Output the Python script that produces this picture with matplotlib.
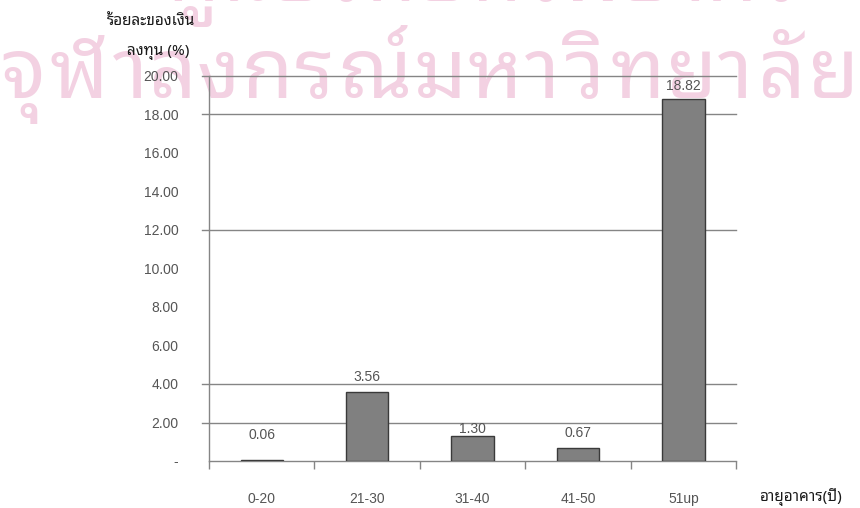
import matplotlib
matplotlib.use("Agg")
import matplotlib.pyplot as plt
import numpy as np
from matplotlib.textpath import TextPath
from matplotlib.font_manager import FontProperties

# building age groups and share of investment (%)
age_groups = ["0-20", "21-30", "31-40", "41-50", "51up"]
invest_pct = [0.06, 3.56, 1.30, 0.67, 18.82]
ytick_vals = [0, 2, 4, 6, 8, 10, 12, 14, 16, 18, 20]
ytick_text = ["-", "2.00", "4.00", "6.00", "8.00", "10.00", "12.00",
              "14.00", "16.00", "18.00", "20.00"]
grid_vals = [2, 4, 12, 18, 20]
label_offsets = [13, 6, 0, 6, 4]   # points above each bar

# watermark split into letter clusters so they can be spread out
mark_clusters = ["จุ", "ฬ", "า", "ล", "ง", "ก", "ร", "ณ์", "ม", "ห",
                 "า", "วิ", "ท", "ย", "า", "ลั", "ย"]

thai = ["Noto Sans Thai Looped", "DejaVu Sans"]
latin = ["Liberation Sans", "Noto Sans Thai Looped", "DejaVu Sans"]
plt.rcParams["font.family"] = latin

W, H = 860, 508
fig = plt.figure(figsize=(W / 100, H / 100), dpi=100)
fig.patch.set_facecolor("white")

# pale pink watermark behind the chart
mark_color = "#f3d1e2"
mark_size = 60
fp = FontProperties(family="Noto Sans Thai Looped", weight="bold")
widths = [TextPath((0, 0), c, size=mark_size * 100 / 72, prop=fp)
          .get_extents().width for c in mark_clusters]
left, right = 4, 853
gap = (right - left - sum(widths)) / (len(widths) - 1)
xpos = left
for c, w in zip(mark_clusters, widths):
    fig.text((xpos + w / 2) / W, 1 - 98 / H, c, family=thai,
             fontsize=mark_size, fontweight="bold", color=mark_color,
             ha="center", va="baseline", zorder=-1)
    xpos += w + gap

# upper watermark row, mostly above the top edge
fig.text(0.56, 1 - 1 / H, "ศูนย์วิทยทรัพยากร", family=thai,
         fontsize=mark_size, fontweight="bold", color=mark_color,
         ha="center", va="baseline", zorder=-1)

ax = fig.add_axes([0.243, 0.0925, 0.613, 0.758])
ax.patch.set_alpha(0)

x = np.arange(len(age_groups))
ax.bar(x, invest_pct, width=0.4, color="#808080",
       edgecolor="#3a3a3a", linewidth=1.0, zorder=3)

for xi, v, off in zip(x, invest_pct, label_offsets):
    ax.annotate(f"{v:.2f}", (xi, v), xytext=(0, off),
                textcoords="offset points", ha="center", va="bottom",
                fontsize=10, color="#555555", zorder=4)

# horizontal rules, slightly poking out left of the axis
for g in grid_vals:
    ax.plot([-0.013, 1], [g, g], transform=ax.get_yaxis_transform(),
            color="#858585", lw=1.0, clip_on=False, zorder=1)

ax.set_xlim(-0.5, len(age_groups) - 0.5)
ax.set_ylim(0, 20)

ax.set_yticks(ytick_vals)
ax.set_yticklabels(ytick_text)
ax.tick_params(axis="y", length=0, pad=22, labelsize=10,
               labelcolor="#555555")

ax.set_xticks(x)
ax.set_xticklabels(age_groups)
ax.set_xticks(np.arange(len(age_groups) + 1) - 0.5, minor=True)
ax.tick_params(axis="x", which="major", length=0, pad=22, labelsize=10,
               labelcolor="#555555")
ax.tick_params(axis="x", which="minor", length=6, width=1.0,
               color="#858585", direction="out")

for side in ["top", "right"]:
    ax.spines[side].set_visible(False)
for side in ["left", "bottom"]:
    ax.spines[side].set_color("#858585")
    ax.spines[side].set_linewidth(1.0)

# axis titles
fig.text(107 / W, 1 - 22 / H, "ร้อยละของเงิน", family=thai,
         fontsize=11, fontweight="bold", color="#1a1a1a",
         ha="left", va="center")
fig.text(158 / W, 1 - 52 / H, "ลงทุน (%)", family=thai,
         fontsize=11, fontweight="bold", color="#1a1a1a",
         ha="center", va="center")
fig.text(760 / W, 1 - 497 / H, "อายุอาคาร(ปี)", family=thai,
         fontsize=11, fontweight="bold", color="#1a1a1a",
         ha="left", va="center")

fig.savefig("out.png", dpi=100)
